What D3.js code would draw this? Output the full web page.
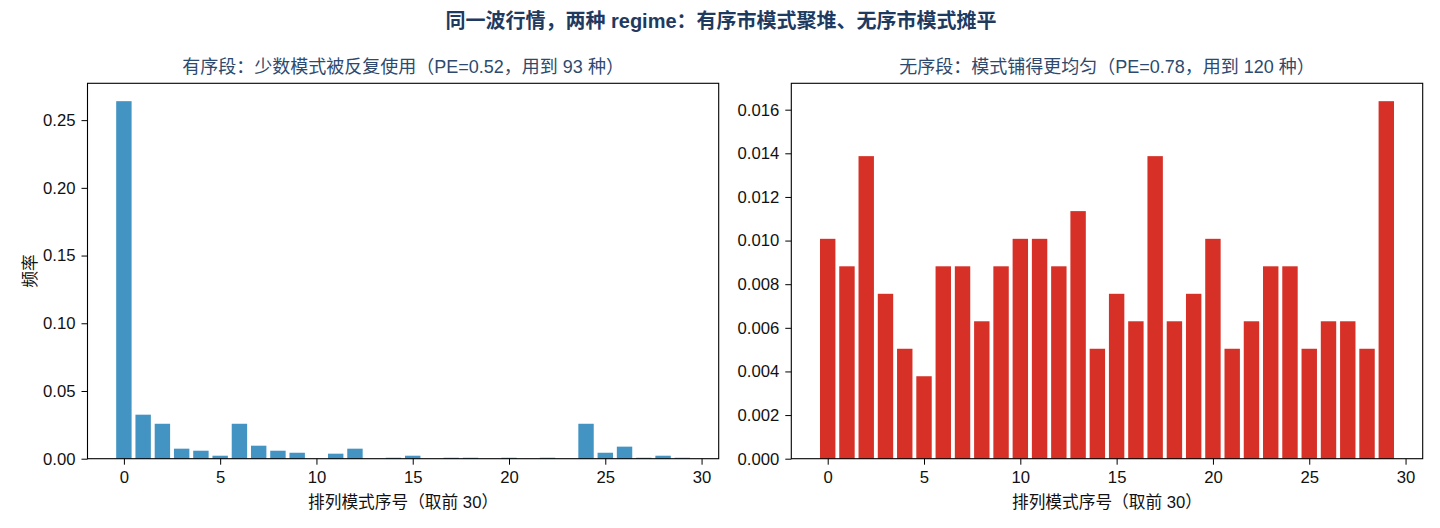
<!DOCTYPE html>
<html>
<head>
<meta charset="utf-8">
<script src="https://cdn.jsdelivr.net/npm/d3@7"></script>
<style>
  body { margin: 0; background: #fff; }
  svg text { font-family: "Liberation Sans", "Noto Sans CJK SC", sans-serif; }
</style>
</head>
<body>
<div id="chart"></div>
<script>
// 数据：两段行情的排列模式频率（取前 30）
const patternIdx = d3.range(30);
const orderedFreq = [
  0.264, 0.0325, 0.0258, 0.0074, 0.0059, 0.0022, 0.0258, 0.0096, 0.0059, 0.0044,
  0, 0.0037, 0.0074, 0, 0.0007, 0.0022, 0, 0.0007, 0.0007, 0,
  0.0007, 0, 0.0007, 0, 0.0258, 0.0044, 0.0089, 0.0007, 0.0022, 0.0007
];
const disorderFreq = [
  0.01008, 0.00882, 0.01387, 0.00756, 0.00504, 0.00378, 0.00882, 0.00882, 0.0063, 0.00882,
  0.01008, 0.01008, 0.00882, 0.01135, 0.00504, 0.00756, 0.0063, 0.01387, 0.0063, 0.00756,
  0.01008, 0.00504, 0.0063, 0.00882, 0.00882, 0.00504, 0.0063, 0.0063, 0.00504, 0.01639
];
const xTicks = [0, 5, 10, 15, 20, 25, 30];
const leftYTicks = [0, 0.05, 0.10, 0.15, 0.20, 0.25];
const rightYTicks = [0, 0.002, 0.004, 0.006, 0.008, 0.010, 0.012, 0.014, 0.016];

const W = 1440, H = 528;
const svg = d3.select('#chart').append('svg')
  .attr('width', W).attr('height', H);

// 总标题
svg.append('text')
  .attr('x', 721).attr('y', 28)
  .attr('text-anchor', 'middle')
  .style('font-size', '20px')
  .style('font-weight', 'bold')
  .style('fill', '#1f3a5f')
  .text('同一波行情，两种 regime：有序市模式聚堆、无序市模式摊平');

const plotTop = 83.3, plotBottom = 458.7;

const drawPanel = (left, right, values, color, yTicks, fmt, title, showYLabel) => {
  const g = svg.append('g');
  const x = d3.scaleLinear().domain([-1.89, 30.89]).range([left, right]);
  const yMax = d3.max(values) * 1.05;
  const y = d3.scaleLinear().domain([0, yMax]).range([plotBottom, plotTop]);
  const bw = x(0.8) - x(0);

  // 柱子
  g.selectAll('rect')
    .data(patternIdx)
    .enter()
    .append('rect')
    .attr('x', (d) => x(d - 0.4))
    .attr('y', (d) => y(values[d]))
    .attr('width', bw)
    .attr('height', (d) => y(0) - y(values[d]))
    .attr('fill', color);

  // 坐标轴
  const xAxis = g.append('g')
    .attr('transform', `translate(0,${plotBottom})`)
    .call(d3.axisBottom(x).tickValues(xTicks).tickSize(6).tickPadding(6).tickFormat(d3.format('d')));
  const yAxis = g.append('g')
    .attr('transform', `translate(${left},0)`)
    .call(d3.axisLeft(y).tickValues(yTicks).tickSize(6).tickPadding(6).tickFormat(d3.format(fmt)));
  [xAxis, yAxis].forEach((a) => {
    a.select('.domain').remove();
    a.selectAll('line').attr('stroke', '#000').attr('stroke-width', 1);
    a.selectAll('text').style('font-size', '16.7px').style('fill', '#111')
      .style('font-family', '"Liberation Sans", "Noto Sans CJK SC", sans-serif');
  });

  // 边框
  g.append('rect')
    .attr('x', left).attr('y', plotTop)
    .attr('width', right - left).attr('height', plotBottom - plotTop)
    .attr('fill', 'none').attr('stroke', '#000').attr('stroke-width', 1.1);

  // 子标题
  g.append('text')
    .attr('x', (left + right) / 2).attr('y', 73)
    .attr('text-anchor', 'middle')
    .style('font-size', '18px')
    .style('fill', '#2d4a6e')
    .text(title);

  // x 轴标题
  g.append('text')
    .attr('x', (left + right) / 2).attr('y', 508)
    .attr('text-anchor', 'middle')
    .style('font-size', '16.7px')
    .style('fill', '#111')
    .text('排列模式序号（取前 30）');

  if (showYLabel) {
    g.append('text')
      .attr('transform', `translate(36,${(plotTop + plotBottom) / 2}) rotate(-90)`)
      .attr('text-anchor', 'middle')
      .style('font-size', '16.7px')
      .style('fill', '#111')
      .text('频率');
  }
};

drawPanel(87.5, 718.7, orderedFreq, '#4393c3', leftYTicks, '.2f',
  '有序段：少数模式被反复使用（PE=0.52，用到 93 种）', true);
drawPanel(791.3, 1422.7, disorderFreq, '#d73027', rightYTicks, '.3f',
  '无序段：模式铺得更均匀（PE=0.78，用到 120 种）', false);
</script>
</body>
</html>
